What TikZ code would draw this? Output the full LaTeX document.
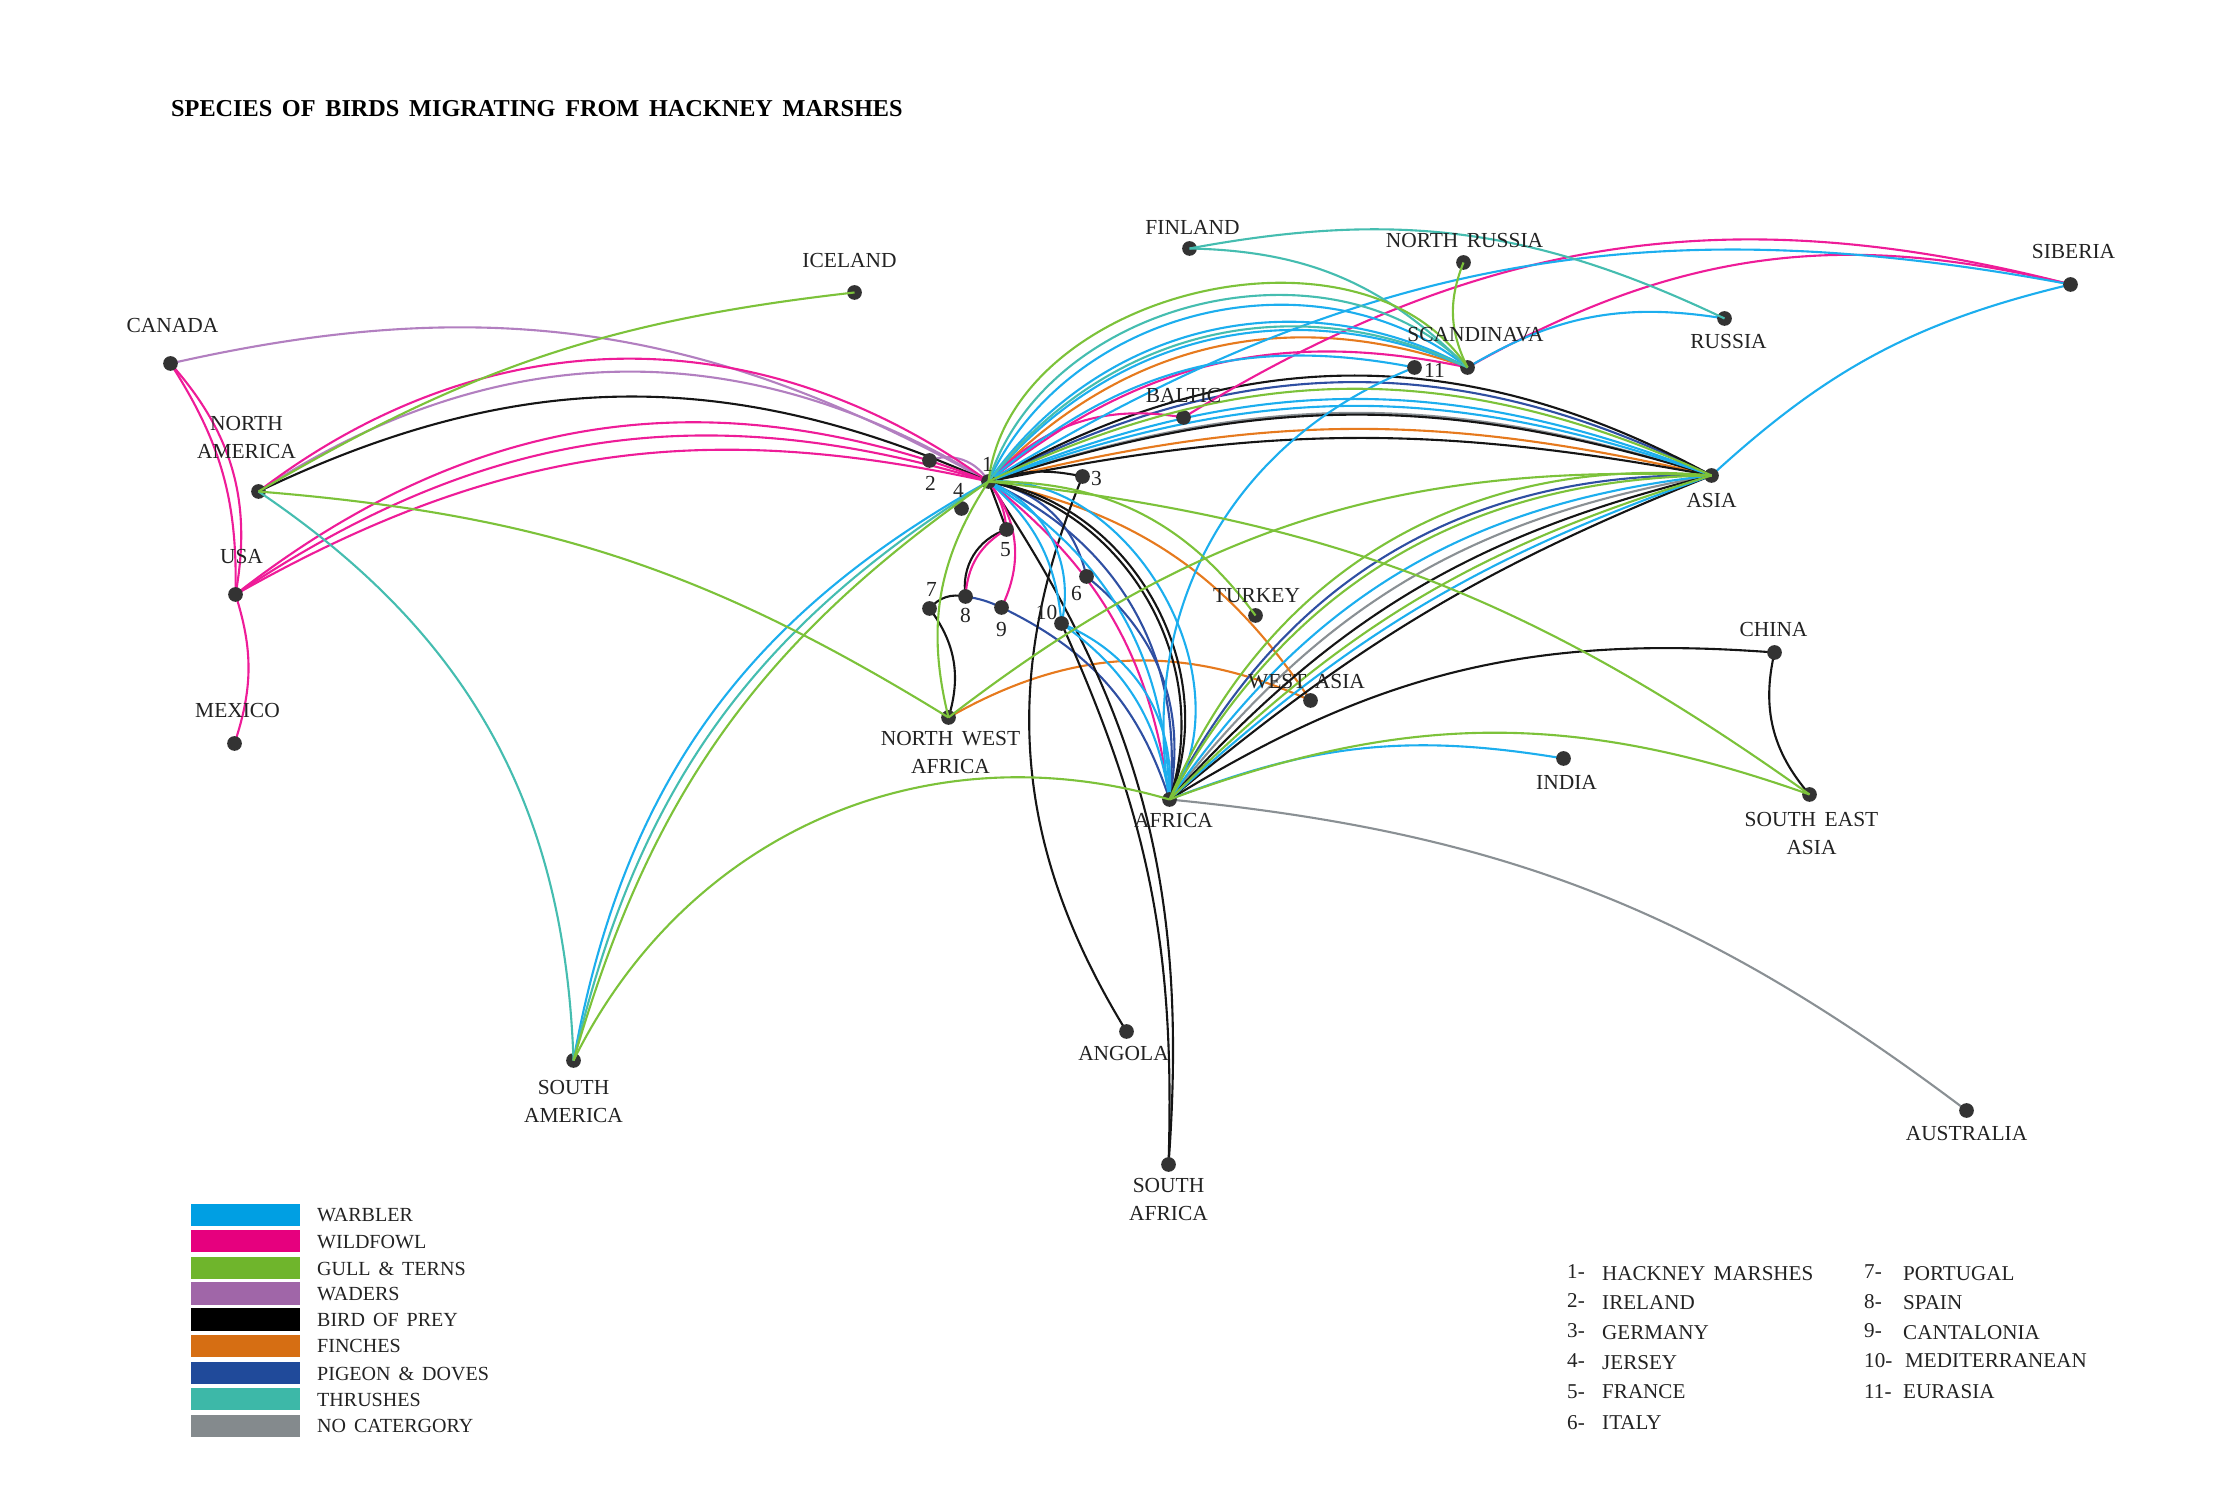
\documentclass[tikz,border=0pt]{standalone}
\usepackage{fontspec}
\setmainfont{Liberation Serif}[WordSpace=1.6]
\usetikzlibrary{positioning}
\definecolor{warblerblue}{HTML}{1CAEEE}
\definecolor{wildfowlpink}{HTML}{EE1C98}
\definecolor{gullgreen}{HTML}{7CC23A}
\definecolor{waderpurple}{HTML}{B27FC0}
\definecolor{preyblack}{HTML}{151515}
\definecolor{finchorange}{HTML}{E67A1E}
\definecolor{pigeonblue}{HTML}{2F4FA2}
\definecolor{thrushteal}{HTML}{45BDB0}
\definecolor{nocatgray}{HTML}{8A9094}
\definecolor{inktext}{HTML}{222222}
\pgfdeclarelayer{edgelayer}
\pgfsetlayers{edgelayer,main}
\begin{document}
\begin{tikzpicture}[
        dot/.style={circle,fill=black!80,inner sep=0pt,minimum size=0.147cm},
        place/.style={inner sep=0pt,align=center,text=inktext,font=\fontsize{6.1}{8.1}\selectfont},
        keybox/.style={inner sep=0pt,minimum width=1.09cm,minimum height=0.22cm},
        keytext/.style={inner sep=0pt,anchor=west,text=inktext,font=\fontsize{5.7}{7}\selectfont},
        listtext/.style={inner sep=0pt,anchor=west,text=inktext,font=\fontsize{6}{7}\selectfont},
        warbleredge/.style={line width=0.6pt,warblerblue},
        wildfowledge/.style={line width=0.6pt,wildfowlpink},
        gulledge/.style={line width=0.6pt,gullgreen},
        waderedge/.style={line width=0.6pt,waderpurple},
        preyedge/.style={line width=0.6pt,preyblack},
        finchedge/.style={line width=0.6pt,finchorange},
        pigeonedge/.style={line width=0.6pt,pigeonblue},
        thrushedge/.style={line width=0.6pt,thrushteal},
        nocatedge/.style={line width=0.6pt,nocatgray}
        ]
            \useasboundingbox (-0.005,0.005) rectangle (22.255,15.045);
            % places
            \node[dot] (hackney) at (9.88,10.23) {};
            \node[dot] (ireland) at (9.29,10.44) {};
            \node[dot] (germany) at (10.82,10.28) {};
            \node[dot] (jersey) at (9.61,9.96) {};
            \node[dot] (france) at (10.06,9.75) {};
            \node[dot] (italy) at (10.86,9.28) {};
            \node[dot] (portugal) at (9.29,8.96) {};
            \node[dot] (spain) at (9.65,9.08) {};
            \node[dot] (cantalonia) at (10.01,8.97) {};
            \node[dot] (med) at (10.61,8.81) {};
            \node[dot] (eurasia) at (14.14,11.37) {};
            \node[dot] (scandinavia) at (14.67,11.37) {};
            \node[dot] (baltic) at (11.83,10.87) {};
            \node[dot] (finland) at (11.89,12.56) {};
            \node[dot] (nrussia) at (14.63,12.42) {};
            \node[dot] (russia) at (17.24,11.86) {};
            \node[dot] (siberia) at (20.70,12.20) {};
            \node[dot] (asia) at (17.11,10.29) {};
            \node[dot] (china) at (17.74,8.52) {};
            \node[dot] (india) at (15.63,7.46) {};
            \node[dot] (seasia) at (18.09,7.10) {};
            \node[dot] (africa) at (11.69,7.05) {};
            \node[dot] (turkey) at (12.55,8.89) {};
            \node[dot] (westasia) at (13.10,8.04) {};
            \node[dot] (nwafrica) at (9.48,7.87) {};
            \node[dot] (iceland) at (8.54,12.12) {};
            \node[dot] (canada) at (1.70,11.41) {};
            \node[dot] (namerica) at (2.58,10.13) {};
            \node[dot] (usa) at (2.35,9.10) {};
            \node[dot] (mexico) at (2.34,7.61) {};
            \node[dot] (samerica) at (5.73,4.44) {};
            \node[dot] (angola) at (11.26,4.73) {};
            \node[dot] (safrica) at (11.68,3.40) {};
            \node[dot] (australia) at (19.66,3.94) {};
            % these go under the dots
            \begin{pgfonlayer}{edgelayer}
            \path[nocatedge]
                (hackney.center) edge[bend left=18] (asia.center)
                (africa.center) edge[bend left=21] (asia.center)
                (africa.center) edge[bend left=15.7] (australia.center);
            \path[waderedge]
                (namerica.center) edge[bend left=32.4] (hackney.center)
                (canada.center) edge[bend left=21] (hackney.center)
                (ireland.center) edge[bend left=40] (hackney.center);
            \path[finchedge]
                (hackney.center) edge[bend left=33] (scandinavia.center)
                (hackney.center) edge[bend left=13.5] (asia.center)
                (hackney.center) edge[bend left=22] (westasia.center)
                (nwafrica.center) edge[bend left=27] (westasia.center);
            \path[pigeonedge]
                (hackney.center) edge[bend left=27] (asia.center)
                (hackney.center) edge[bend left=33] (italy.center)
                (hackney.center) edge[bend left=36] (africa.center)
                (italy.center) edge[bend left=31] (africa.center)
                (spain.center) edge[bend left=8] (cantalonia.center)
                (cantalonia.center) edge[bend left=23] (africa.center)
                (africa.center) edge[bend left=32] (asia.center);
            \path[preyedge]
                (hackney.center) edge[bend left=29] (asia.center)
                (hackney.center) edge[bend left=17.5] (asia.center)
                (hackney.center) edge[bend left=11] (asia.center)
                (namerica.center) edge[bend left=24.8] (hackney.center)
                (hackney.center) edge[bend left=15] (germany.center)
                (germany.center) edge[bend right=27] (angola.center)
                (hackney.center) edge (france.center)
                (hackney.center) edge[bend left=52] (africa.center)
                (hackney.center) edge[bend left=48] (africa.center)
                (hackney.center) edge[bend left=19] (safrica.center)
                (med.center) edge[bend left=13] (safrica.center)
                (portugal.center) edge[bend left=30] (spain.center)
                (portugal.center) edge[bend left=27] (nwafrica.center)
                (spain.center) edge[bend left=40] (france.center)
                (africa.center) edge[bend left=17] (asia.center)
                (africa.center) edge[bend left=9] (asia.center)
                (africa.center) edge[bend left=18] (china.center)
                (china.center) edge[bend right=27] (seasia.center);
            \path[wildfowledge]
                (hackney.center) edge[bend left=25.4] (scandinavia.center)
                (hackney.center) edge[bend left=28] (baltic.center)
                (baltic.center) edge[bend left=23] (siberia.center)
                (scandinavia.center) edge[bend left=21.6] (siberia.center)
                (namerica.center) edge[bend left=36.6] (hackney.center)
                (usa.center) edge[bend left=29.5] (hackney.center)
                (usa.center) edge[bend left=25.4] (hackney.center)
                (usa.center) edge[bend left=21] (hackney.center)
                (canada.center) edge[bend left=26] (usa.center)
                (canada.center) edge[bend left=17] (usa.center)
                (usa.center) edge[bend left=18] (mexico.center)
                (hackney.center) edge[bend left=15] (france.center)
                (hackney.center) edge[bend left=32] (cantalonia.center)
                (spain.center) edge[bend left=28] (france.center)
                (hackney.center) edge[bend left=22] (africa.center);
            \path[warbleredge]
                (hackney.center) edge[bend left=52] (scandinavia.center)
                (hackney.center) edge[bend left=41.6] (scandinavia.center)
                (hackney.center) edge[bend left=37] (scandinavia.center)
                (hackney.center) edge[bend left=26] (eurasia.center)
                (hackney.center) edge[bend left=21] (siberia.center)
                (scandinavia.center) edge[bend left=20] (russia.center)
                (asia.center) edge[bend left=14.5] (siberia.center)
                (hackney.center) edge[bend left=22] (asia.center)
                (hackney.center) edge[bend left=20] (asia.center)
                (eurasia.center) edge[bend right=39] (africa.center)
                (hackney.center) edge[bend left=64] (africa.center)
                (hackney.center) edge[bend left=28] (africa.center)
                (hackney.center) edge[bend left=40] (med.center)
                (hackney.center) edge[bend left=22] (med.center)
                (med.center) edge[bend left=36] (africa.center)
                (med.center) edge[bend left=23] (africa.center)
                (samerica.center) edge[bend left=25.4] (hackney.center)
                (africa.center) edge[bend left=24.5] (asia.center)
                (africa.center) edge[bend left=11.5] (asia.center)
                (africa.center) edge[bend left=15.4] (india.center);
            \end{pgfonlayer}
            % these show over the dots
            \path[thrushedge]
                (hackney.center) edge[bend left=59] (scandinavia.center)
                (hackney.center) edge[bend left=39] (scandinavia.center)
                (finland.center) edge[bend left=22] (scandinavia.center)
                (finland.center) edge[bend left=18] (russia.center)
                (namerica.center) edge[bend left=27] (samerica.center)
                (samerica.center) edge[bend left=22.4] (hackney.center);
            \path[gulledge]
                (hackney.center) edge[bend left=70] (scandinavia.center)
                (nrussia.center) edge[bend right=24] (scandinavia.center)
                (hackney.center) edge[bend left=25] (asia.center)
                (namerica.center) edge[bend left=12] (iceland.center)
                (namerica.center) edge[bend left=13.5] (nwafrica.center)
                (samerica.center) edge[bend left=19.5] (hackney.center)
                (samerica.center) edge[bend left=40] (africa.center)
                (hackney.center) edge[bend right=23.5] (nwafrica.center)
                (hackney.center) edge[bend left=27] (turkey.center)
                (hackney.center) edge[bend left=14.6] (seasia.center)
                (nwafrica.center) edge[bend left=20] (asia.center)
                (africa.center) edge[bend left=36] (asia.center)
                (africa.center) edge[bend left=30] (asia.center)
                (africa.center) edge[bend left=14] (asia.center)
                (africa.center) edge[bend left=20] (seasia.center);
            % labels
            \node[inner sep=0pt,anchor=west,text=black,font=\bfseries\fontsize{6.9}{9}\selectfont] (title) at (1.70,13.96) {SPECIES OF BIRDS MIGRATING FROM HACKNEY MARSHES};
            \node[place] (hackneynum) at (9.87,10.40) {1};
            \node[place] (irelandnum) at (9.30,10.21) {2};
            \node[place] (germanynum) at (10.96,10.26) {3};
            \node[place] (jerseynum) at (9.58,10.14) {4};
            \node[place] (francenum) at (10.05,9.55) {5};
            \node[place] (italynum) at (10.76,9.11) {6};
            \node[place] (portugalnum) at (9.31,9.15) {7};
            \node[place] (spainnum) at (9.65,8.89) {8};
            \node[place] (cantalonianum) at (10.01,8.75) {9};
            \node[place] (mednum) at (10.46,8.92) {10};
            \node[place] (eurasianum) at (14.34,11.34) {11};
            \node[place] (finlandname) at (11.92,12.77) {FINLAND};
            \node[place] (nrussianame) at (14.64,12.64) {NORTH RUSSIA};
            \node[place] (scandinavianame) at (14.75,11.70) {SCANDINAVA};
            \node[place] (russianame) at (17.28,11.63) {RUSSIA};
            \node[place] (siberianame) at (20.73,12.53) {SIBERIA};
            \node[place] (icelandname) at (8.49,12.44) {ICELAND};
            \node[place] (canadaname) at (1.72,11.79) {CANADA};
            \node[place] (namericaname) at (2.46,10.67) {NORTH\\AMERICA};
            \node[place] (usaname) at (2.41,9.48) {USA};
            \node[place] (mexiconame) at (2.37,7.94) {MEXICO};
            \node[place] (balticname) at (11.83,11.09) {BALTIC};
            \node[place] (asianame) at (17.11,10.04) {ASIA};
            \node[place] (turkeyname) at (12.56,9.09) {TURKEY};
            \node[place] (westasianame) at (13.06,8.23) {WEST ASIA};
            \node[place] (chinaname) at (17.73,8.75) {CHINA};
            \node[place] (indianame) at (15.66,7.22) {INDIA};
            \node[place] (seasianame) at (18.11,6.71) {SOUTH EAST\\ASIA};
            \node[place] (africaname) at (11.73,6.84) {AFRICA};
            \node[place] (nwafricaname) at (9.50,7.52) {NORTH WEST\\AFRICA};
            \node[place] (samericaname) at (5.73,4.03) {SOUTH\\AMERICA};
            \node[place] (angolaname) at (11.23,4.51) {ANGOLA};
            \node[place] (safricaname) at (11.68,3.05) {SOUTH\\AFRICA};
            \node[place] (australianame) at (19.66,3.71) {AUSTRALIA};
            % key
            \node[keybox,fill={rgb,255:red,0;green,159;blue,227}] (keywarbler) at (2.445,2.89) {};
            \node[keybox,fill={rgb,255:red,230;green,0;blue,126}] (keywildfowl) at (2.445,2.63) {};
            \node[keybox,fill={rgb,255:red,111;green,181;blue,44}] (keygull) at (2.445,2.37) {};
            \node[keybox,fill={rgb,255:red,160;green,102;blue,168}] (keywaders) at (2.445,2.11) {};
            \node[keybox,fill=black] (keyprey) at (2.445,1.85) {};
            \node[keybox,fill={rgb,255:red,214;green,110;blue,19}] (keyfinches) at (2.445,1.59) {};
            \node[keybox,fill={rgb,255:red,32;green,74;blue,154}] (keypigeon) at (2.445,1.32) {};
            \node[keybox,fill={rgb,255:red,61;green,184;blue,168}] (keythrushes) at (2.445,1.06) {};
            \node[keybox,fill={rgb,255:red,132;green,138;blue,141}] (keynone) at (2.445,0.79) {};
            \node[keytext] (textwarbler) at (3.16,2.89) {WARBLER};
            \node[keytext] (textwildfowl) at (3.16,2.62) {WILDFOWL};
            \node[keytext] (textgull) at (3.16,2.36) {GULL \& TERNS};
            \node[keytext] (textwaders) at (3.16,2.10) {WADERS};
            \node[keytext] (textprey) at (3.16,1.85) {BIRD OF PREY};
            \node[keytext] (textfinches) at (3.16,1.59) {FINCHES};
            \node[keytext] (textpigeon) at (3.16,1.31) {PIGEON \& DOVES};
            \node[keytext] (textthrushes) at (3.16,1.05) {THRUSHES};
            \node[keytext] (textnone) at (3.16,0.79) {NO CATERGORY};
            % numbered list
            \node[listtext] (numa) at (15.66,2.33) {1-};
            \node[listtext] (numb) at (15.66,2.04) {2-};
            \node[listtext] (numc) at (15.66,1.74) {3-};
            \node[listtext] (numd) at (15.66,1.44) {4-};
            \node[listtext] (nume) at (15.66,1.13) {5-};
            \node[listtext] (numf) at (15.66,0.82) {6-};
            \node[listtext] (itema) at (16.01,2.31) {HACKNEY MARSHES};
            \node[listtext] (itemb) at (16.01,2.02) {IRELAND};
            \node[listtext] (itemc) at (16.01,1.72) {GERMANY};
            \node[listtext] (itemd) at (16.01,1.42) {JERSEY};
            \node[listtext] (iteme) at (16.01,1.13) {FRANCE};
            \node[listtext] (itemf) at (16.01,0.82) {ITALY};
            \node[listtext] (numg) at (18.63,2.33) {7-};
            \node[listtext] (numh) at (18.63,2.03) {8-};
            \node[listtext] (numi) at (18.63,1.74) {9-};
            \node[listtext] (numj) at (18.63,1.44) {10-};
            \node[listtext] (numk) at (18.63,1.13) {11-};
            \node[listtext] (itemg) at (19.02,2.31) {PORTUGAL};
            \node[listtext] (itemh) at (19.02,2.02) {SPAIN};
            \node[listtext] (itemi) at (19.02,1.72) {CANTALONIA};
            \node[listtext] (itemj) at (19.04,1.44) {MEDITERRANEAN};
            \node[listtext] (itemk) at (19.02,1.13) {EURASIA};
        \end{tikzpicture}
\end{document}
